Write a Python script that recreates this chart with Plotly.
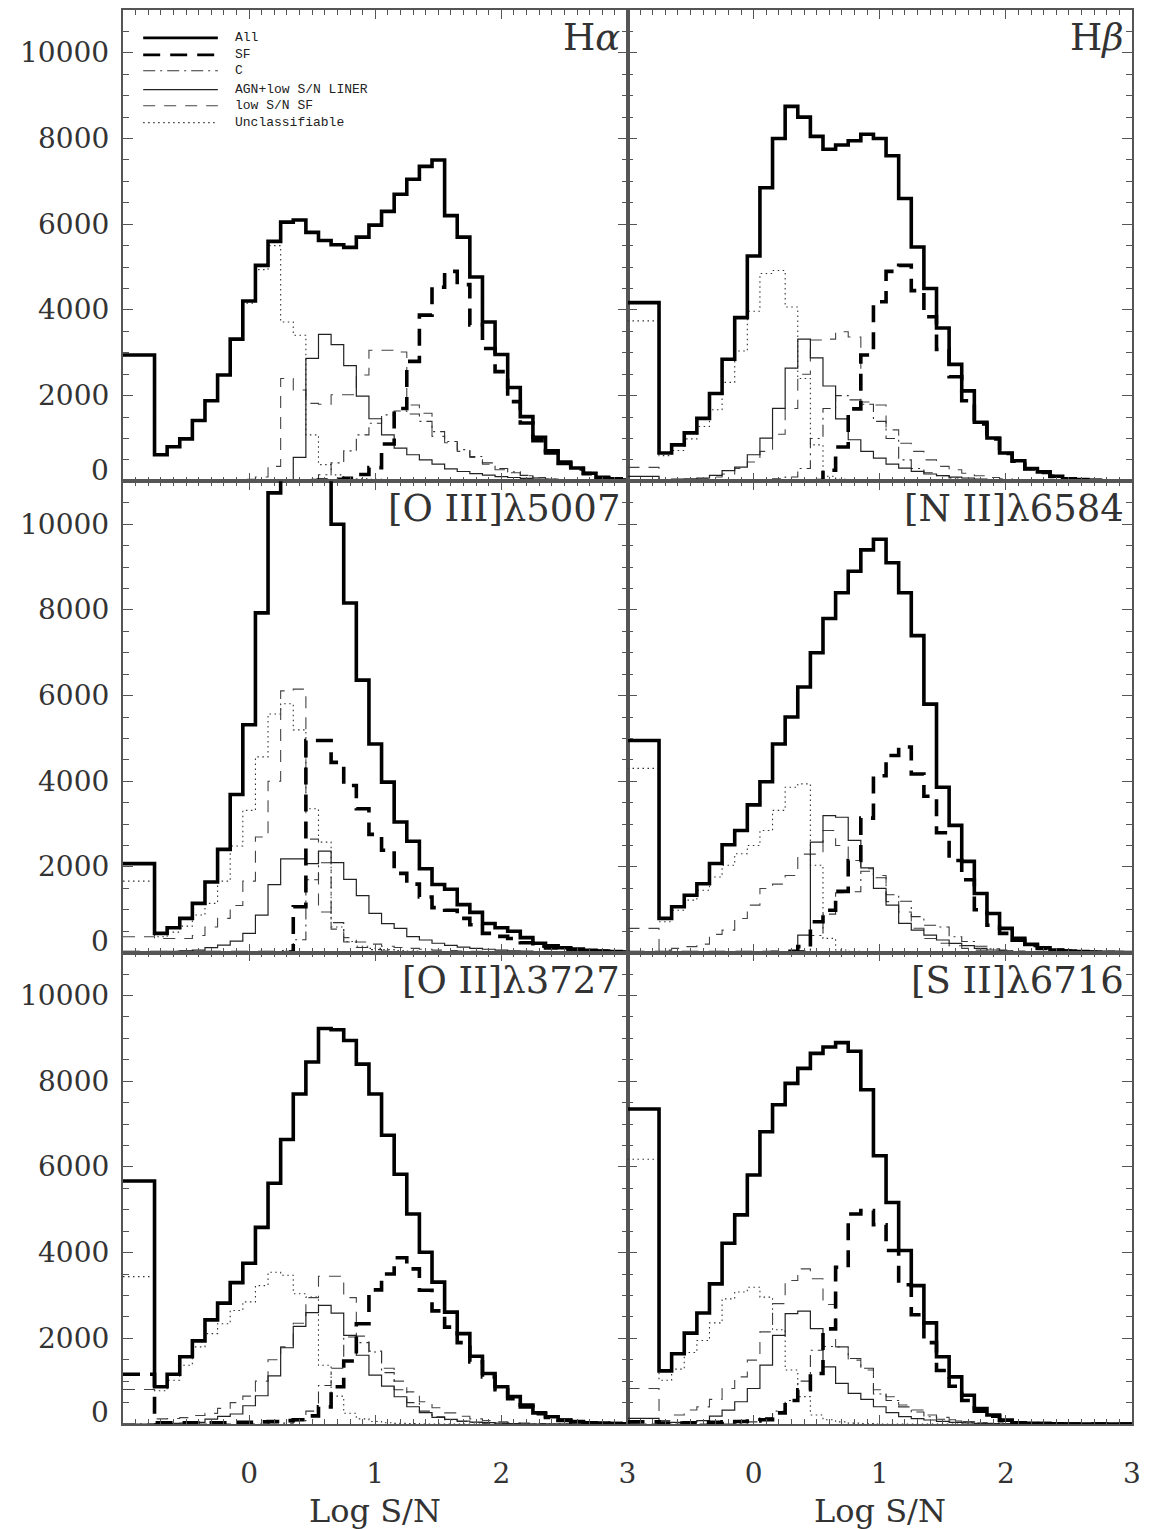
import plotly.graph_objects as go

# ---------------- data ----------------
# bin centres of log S/N (first bin = underflow, drawn from the left edge)
BIN_CENTERS = [-0.8, -0.7, -0.6, -0.5, -0.4, -0.3, -0.2, -0.1, 0.0, 0.1,
               0.2, 0.3, 0.4, 0.5, 0.6, 0.7, 0.8, 0.9, 1.0, 1.1,
               1.2, 1.3, 1.4, 1.5, 1.6, 1.7, 1.8, 1.9, 2.0, 2.1,
               2.2, 2.3, 2.4, 2.5, 2.6, 2.7, 2.8, 2.9, 3.0]
X_RANGE = [-1.0, 3.0]
Y_RANGE = [0, 11000]
X_TICKS = [0, 1, 2, 3]
Y_TICKS = [0, 2000, 4000, 6000, 8000, 10000]
Y_TICK_TEXT = ["0", "2000", "4000", "6000", "8000", "10000"]

PANEL_TITLES = ["H<i>α</i>", "H<i>β</i>", "[O III]λ5007", "[N II]λ6584",
                "[O II]λ3727", "[S II]λ6716"]
SERIES = ["All", "SF", "C", "AGN+low S/N LINER", "low S/N SF", "Unclassifiable"]

# H alpha
HA_ALL = [2950, 620, 806, 990, 1420, 1880, 2480, 3320, 4210, 5040,
          5600, 6050, 6100, 5810, 5620, 5520, 5460, 5700, 5980, 6300,
          6700, 7050, 7350, 7500, 6200, 5700, 4770, 3720, 2960, 2190,
          1510, 1030, 710, 450, 310, 190, 95, 60, 30]
HA_SF = [0, 0, 0, 0, 0, 0, 0, 0, 0, 0,
         0, 0, 10, 20, 30, 50, 70, 160, 320, 870,
         1700, 2800, 3880, 4530, 4900, 4590, 3650, 3100, 2560, 1860,
         1360, 950, 660, 420, 290, 180, 85, 50, 20]
HA_C = [0, 0, 0, 0, 0, 0, 0, 0, 0, 0,
        0, 0, 0, 30, 155, 430, 710, 1085, 1357, 1550,
        1640, 1570, 1400, 1160, 930, 740, 580, 430, 300, 220,
        140, 90, 55, 30, 20, 10, 5, 0, 0]
HA_AGN = [0, 0, 0, 0, 0, 0, 0, 0, 0, 0,
          0, 0, 560, 2870, 3430, 3190, 2700, 1990, 1460, 1085,
          775, 620, 500, 400, 290, 230, 180, 145, 110, 90,
          70, 50, 35, 25, 15, 10, 5, 0, 0]
HA_LSF = [0, 0, 0, 0, 0, 0, 0, 0, 50, 100,
          350, 2400, 2130, 1820, 1800, 2020, 2020, 2480, 3060, 3060,
          3020, 1780, 1590, 1050, 900, 700, 560, 400, 270, 200,
          130, 85, 55, 35, 20, 10, 5, 0, 0]
HA_UNC = [2950, 620, 806, 990, 1420, 1880, 2480, 3320, 4160, 4940,
          5500, 3720, 3410, 1085, 390, 150, 80, 60, 50, 40,
          30, 25, 20, 15, 10, 10, 5, 0, 0, 0,
          0, 0, 0, 0, 0, 0, 0, 0, 0]

# H beta
HB_ALL = [4170, 660, 850, 1130, 1470, 2050, 2850, 3820, 5260, 6850,
          8000, 8750, 8500, 8050, 7750, 7850, 7950, 8100, 8000, 7600,
          6600, 5470, 4500, 3580, 2730, 2110, 1380, 1010, 660, 480,
          300, 220, 120, 60, 40, 25, 10, 5, 0]
HB_SF = [0, 0, 0, 0, 0, 0, 0, 0, 0, 0,
         0, 0, 10, 20, 260, 800, 1690, 2950, 4190, 4900,
         5040, 4450, 3840, 3080, 2440, 1880, 1340, 990, 650, 470,
         290, 210, 115, 60, 35, 20, 10, 5, 0]
HB_C = [0, 0, 0, 0, 0, 0, 0, 0, 0, 30,
        60, 100, 300, 1000, 1700, 2000, 1900, 1800, 1400, 1000,
        500, 300, 200, 130, 80, 50, 30, 20, 10, 0,
        0, 0, 0, 0, 0, 0, 0, 0, 0]
HB_AGN = [116, 40, 50, 60, 78, 140, 250, 330, 620, 1010,
          1705, 2640, 3320, 2880, 2225, 1457, 970, 700, 543, 403,
          310, 233, 171, 132, 100, 78, 55, 40, 30, 20,
          15, 10, 5, 0, 0, 0, 0, 0, 0]
HB_LSF = [326, 20, 20, 40, 60, 100, 170, 300, 450, 700,
          1100, 1700, 2500, 3300, 3320, 3490, 3370, 1850, 1780, 1200,
          890, 700, 500, 350, 270, 190, 130, 90, 60, 40,
          25, 15, 10, 5, 0, 0, 0, 0, 0]
HB_UNC = [3744, 600, 720, 990, 1280, 1670, 2310, 3040, 3970, 4850,
          4920, 4070, 2400, 850, 120, 50, 30, 20, 10, 5,
          0, 0, 0, 0, 0, 0, 0, 0, 0, 0,
          0, 0, 0, 0, 0, 0, 0, 0, 0]

# [O III] 5007
O3_ALL = [2078, 450, 580, 800, 1150, 1650, 2410, 3690, 5320, 7930,
          10730, 12500, 13500, 13000, 11800, 10000, 8160, 6360, 4870, 3980,
          3050, 2600, 1960, 1590, 1480, 1120, 940, 680, 580, 500,
          350, 220, 160, 115, 85, 55, 40, 25, 15]
O3_SF = [0, 0, 0, 0, 0, 0, 0, 0, 0, 0,
         0, 0, 1070, 4950, 4950, 4440, 3900, 3360, 2760, 2390,
         1850, 1600, 1300, 1050, 990, 800, 650, 450, 380, 330,
         230, 150, 110, 80, 60, 40, 30, 20, 10]
O3_C = [0, 0, 0, 0, 0, 0, 0, 0, 0, 0,
        20, 50, 300, 1700, 2100, 700, 250, 120, 70, 40,
        25, 15, 10, 5, 0, 0, 0, 0, 0, 0,
        0, 0, 0, 0, 0, 0, 0, 0, 0]
O3_AGN = [0, 20, 30, 40, 60, 116, 178, 271, 450, 876,
          1590, 2190, 2190, 2080, 2370, 2100, 1710, 1330, 915, 680,
          566, 372, 295, 220, 170, 130, 100, 80, 60, 45,
          35, 25, 20, 15, 10, 5, 0, 0, 0]
O3_LSF = [370, 330, 330, 330, 400, 600, 800, 1100, 1670, 2700,
          4000, 6110, 6150, 2650, 950, 550, 350, 250, 200, 150,
          120, 100, 80, 60, 50, 40, 30, 20, 15, 10,
          5, 5, 0, 0, 0, 0, 0, 0, 0]
O3_UNC = [1670, 370, 480, 620, 880, 1150, 1670, 2490, 3320, 4570,
          5570, 5810, 5200, 3360, 2580, 600, 260, 150, 100, 70,
          50, 35, 25, 20, 15, 10, 5, 0, 0, 0,
          0, 0, 0, 0, 0, 0, 0, 0, 0]

# [N II] 6584
N2_ALL = [4950, 800, 1070, 1340, 1610, 2080, 2520, 2850, 3450, 3990,
          4870, 5500, 6200, 7000, 7800, 8400, 8900, 9400, 9650, 9100,
          8400, 7400, 5800, 3860, 2970, 2130, 1380, 915, 566, 333,
          194, 116, 62, 39, 25, 15, 10, 5, 0]
N2_SF = [0, 0, 0, 0, 0, 0, 0, 0, 0, 0,
         10, 30, 140, 720, 990, 1430, 2150, 3140, 4130, 4600,
         4800, 4170, 3650, 2800, 2150, 1700, 1000, 640, 450, 290,
         170, 100, 55, 35, 20, 10, 5, 0, 0]
N2_C = [0, 0, 0, 0, 0, 0, 0, 0, 0, 0,
        0, 0, 50, 400, 900, 1400, 1420, 1900, 1750, 1350,
        1200, 840, 640, 600, 370, 260, 150, 90, 60, 40,
        20, 10, 0, 0, 0, 0, 0, 0, 0]
N2_AGN = [0, 0, 0, 0, 0, 0, 0, 0, 0, 0,
          0, 0, 411, 2580, 3200, 3160, 2620, 1980, 1500, 1110,
          682, 527, 411, 295, 217, 163, 101, 62, 40, 25,
          15, 10, 5, 0, 0, 0, 0, 0, 0]
N2_LSF = [566, 60, 100, 140, 200, 426, 527, 798, 1109, 1496,
          1600, 1800, 2300, 2300, 2850, 2500, 2150, 1960, 1800, 1190,
          950, 570, 330, 220, 160, 100, 60, 40, 25, 15,
          10, 5, 0, 0, 0, 0, 0, 0, 0]
N2_UNC = [4300, 720, 990, 1225, 1457, 1767, 2040, 2310, 2500, 2850,
          3320, 3860, 3940, 2040, 333, 62, 30, 15, 5, 0,
          0, 0, 0, 0, 0, 0, 0, 0, 0, 0,
          0, 0, 0, 0, 0, 0, 0, 0, 0]

# [O II] 3727
O2_ALL = [5670, 870, 1160, 1570, 1940, 2430, 2820, 3300, 3750, 4590,
          5620, 6640, 7700, 8450, 9230, 9200, 8950, 8400, 7700, 6740,
          5830, 4900, 4010, 3310, 2610, 2110, 1580, 1180, 870, 640,
          440, 260, 170, 90, 55, 30, 20, 10, 5]
O2_SF = [1160, 30, 30, 30, 30, 30, 30, 40, 40, 50,
         60, 80, 100, 190, 400, 870, 1470, 2340, 3130, 3500,
         3880, 3620, 3120, 2640, 2260, 1900, 1450, 1100, 800, 590,
         400, 240, 155, 85, 50, 30, 15, 8, 0]
O2_C = [0, 0, 0, 0, 0, 0, 0, 0, 0, 0,
        0, 20, 80, 300, 900, 1300, 2030, 1900, 1680, 1200,
        800, 500, 300, 170, 100, 60, 35, 20, 10, 0,
        0, 0, 0, 0, 0, 0, 0, 0, 0]
O2_AGN = [0, 10, 15, 20, 40, 116, 178, 233, 426, 659,
          1124, 1780, 2280, 2600, 2770, 2590, 2070, 1605, 1140, 884,
          636, 403, 264, 155, 109, 70, 45, 30, 20, 10,
          0, 0, 0, 0, 0, 0, 0, 0, 0]
O2_LSF = [806, 120, 130, 150, 200, 248, 364, 500, 650, 1000,
          1500, 1800, 2350, 2950, 3450, 3450, 2950, 2050, 1700, 1300,
          1000, 750, 520, 380, 260, 180, 120, 80, 50, 30,
          20, 10, 0, 0, 0, 0, 0, 0, 0]
O2_UNC = [3440, 775, 1020, 1370, 1800, 2110, 2340, 2650, 2850, 3230,
          3540, 3470, 3040, 2960, 1370, 650, 250, 120, 60, 30,
          15, 10, 0, 0, 0, 0, 0, 0, 0, 0,
          0, 0, 0, 0, 0, 0, 0, 0, 0]

# [S II] 6716
S2_ALL = [7350, 1240, 1640, 2120, 2590, 3270, 4220, 4880, 5810, 6820,
          7450, 7950, 8300, 8650, 8800, 8900, 8700, 7800, 6260, 5170,
          4050, 3230, 2360, 1570, 1100, 670, 360, 210, 90, 30,
          15, 10, 5, 0, 0, 0, 0, 0, 0]
S2_SF = [50, 20, 20, 30, 30, 40, 50, 60, 70, 100,
         260, 550, 800, 1180, 2220, 3660, 4900, 4980, 4650, 4050,
         3250, 2550, 1900, 1250, 880, 550, 300, 180, 80, 28,
         12, 8, 0, 0, 0, 0, 0, 0, 0]
S2_C = [0, 0, 0, 0, 0, 0, 0, 20, 50, 150,
        300, 550, 1000, 1720, 1810, 1800, 1530, 1300, 700, 550,
        400, 280, 170, 110, 70, 40, 20, 10, 0, 0,
        0, 0, 0, 0, 0, 0, 0, 0, 0]
S2_AGN = [132, 30, 40, 50, 80, 186, 326, 519, 829, 1372,
          2070, 2574, 2636, 2225, 1333, 946, 713, 574, 403, 264,
          171, 124, 93, 60, 40, 25, 15, 8, 0, 0,
          0, 0, 0, 0, 0, 0, 0, 0, 0]
S2_LSF = [829, 80, 209, 326, 400, 574, 829, 1101, 1490, 2150,
          2810, 3350, 3620, 3390, 2790, 1800, 1490, 1260, 800, 636,
          442, 326, 209, 155, 100, 60, 30, 15, 8, 0,
          0, 0, 0, 0, 0, 0, 0, 0, 0]
S2_UNC = [6180, 1020, 1280, 1670, 1950, 2360, 2920, 3080, 3190, 2960,
          2200, 1260, 640, 210, 100, 50, 20, 10, 0, 0,
          0, 0, 0, 0, 0, 0, 0, 0, 0, 0,
          0, 0, 0, 0, 0, 0, 0, 0, 0]

PANELS = [
    [HA_ALL, HA_SF, HA_C, HA_AGN, HA_LSF, HA_UNC],
    [HB_ALL, HB_SF, HB_C, HB_AGN, HB_LSF, HB_UNC],
    [O3_ALL, O3_SF, O3_C, O3_AGN, O3_LSF, O3_UNC],
    [N2_ALL, N2_SF, N2_C, N2_AGN, N2_LSF, N2_UNC],
    [O2_ALL, O2_SF, O2_C, O2_AGN, O2_LSF, O2_UNC],
    [S2_ALL, S2_SF, S2_C, S2_AGN, S2_LSF, S2_UNC],
]

# ---------------- styles ----------------
STYLES = {
    "All": dict(color="black", width=3.6, dash="solid"),
    "SF": dict(color="black", width=3.6, dash="17px,10px"),
    "C": dict(color="#333333", width=1.1, dash="12px,5px,2px,5px"),
    "AGN+low S/N LINER": dict(color="#222222", width=1.2, dash="solid"),
    "low S/N SF": dict(color="#444444", width=1.1, dash="12px,9px"),
    "Unclassifiable": dict(color="#333333", width=1.1, dash="1.5px,3.5px"),
}
DRAW_ORDER = [5, 4, 2, 3, 1, 0]
AX = "#555555"
SERIF = "DejaVu Serif"
TXT = "#333333"


def step_xy(vals):
    xs = [X_RANGE[0]] + [round(c - 0.05, 3) for c in BIN_CENTERS[1:]] + [round(BIN_CENTERS[-1] + 0.05, 3)]
    ys = list(vals) + [vals[-1]]
    return xs, ys


fig = go.Figure()
ROW_DOMAINS = [[2 / 3, 1.0], [1 / 3, 2 / 3], [0.0, 1 / 3]]
COL_DOMAINS = [[0.0, 0.5], [0.5, 1.0]]

annotations = []
shapes = []
layout_axes = {}

for p, series_vals in enumerate(PANELS):
    r, c = divmod(p, 2)
    xa_name = "xaxis" if p == 0 else f"xaxis{p + 1}"
    ya_name = "yaxis" if p == 0 else f"yaxis{p + 1}"
    xref = "x" if p == 0 else f"x{p + 1}"
    yref = "y" if p == 0 else f"y{p + 1}"

    for idx in DRAW_ORDER:
        name = SERIES[idx]
        xs, ys = step_xy(series_vals[idx])
        st = STYLES[name]
        fig.add_trace(go.Scatter(x=xs, y=ys, mode="lines", name=name,
                                 line=dict(color=st["color"], width=st["width"],
                                           dash=st["dash"], shape="hv"),
                                 xaxis=xref, yaxis=yref, showlegend=False,
                                 hoverinfo="skip"))

    layout_axes[xa_name] = dict(
        domain=COL_DOMAINS[c], range=X_RANGE, anchor=yref, showline=True,
        linecolor=AX, linewidth=1.5, mirror="ticks", ticks="inside", ticklen=9,
        tickwidth=1, tickcolor=AX, tickvals=X_TICKS, showgrid=False, zeroline=False,
        showticklabels=(r == 2), tickfont=dict(family=SERIF, size=28, color=TXT),
        ticklabelstandoff=24,
        minor=dict(dtick=0.1, tick0=0, ticklen=5, tickcolor=AX, ticks="inside", showgrid=False),
    )
    layout_axes[ya_name] = dict(
        domain=ROW_DOMAINS[r], range=Y_RANGE, anchor=xref, showline=True,
        linecolor=AX, linewidth=1.5, mirror="ticks", ticks="inside", ticklen=10,
        tickwidth=1, tickcolor=AX, tickvals=Y_TICKS, showgrid=False, zeroline=False,
        showticklabels=False,
        minor=dict(dtick=500, tick0=0, ticklen=6, tickcolor=AX, ticks="inside", showgrid=False),
    )

    # panel title
    annotations.append(dict(text=PANEL_TITLES[p], xref=f"{xref} domain", yref=f"{yref} domain",
                            x=1, y=1, xanchor="right", yanchor="top", xshift=-6, yshift=-4,
                            showarrow=False, font=dict(family=SERIF, size=37, color=TXT)))

    # y tick labels (left column)
    if c == 0:
        for v, t in zip(Y_TICKS, Y_TICK_TEXT):
            annotations.append(dict(text=t, xref=f"{xref} domain", yref=yref, x=0, y=v,
                                    xanchor="right", yanchor="middle", xshift=-12,
                                    yshift=(11 if v == 0 else 0), showarrow=False,
                                    font=dict(family=SERIF, size=28, color=TXT)))
    # x axis title (bottom row)
    if r == 2:
        annotations.append(dict(text="Log S/N", xref=f"{xref} domain", yref="paper",
                                x=0.5, y=0, xanchor="center", yanchor="top", yshift=-66,
                                showarrow=False, font=dict(family=SERIF, size=32, color=TXT)))

# legend drawn inside the first panel
LEG_Y = [0.941, 0.905, 0.871, 0.831, 0.797, 0.761]
for name, ly in zip(SERIES, LEG_Y):
    st = STYLES[name]
    shapes.append(dict(type="line", xref="x domain", yref="y domain", x0=0.04, x1=0.188,
                       y0=ly, y1=ly, line=dict(color=st["color"],
                                              width=st["width"] * 0.75 if st["width"] > 2 else st["width"],
                                              dash=st["dash"])))
    annotations.append(dict(text=name, xref="x domain", yref="y domain", x=0.218, y=ly,
                            xanchor="left", yanchor="middle", showarrow=False,
                            font=dict(family="Liberation Mono", size=13, color="#222222")))

# the page adds an 8px body margin, so the figure is offset to land on the same pixels
fig.update_layout(
    width=1133, height=1521,
    margin=dict(l=115, r=9, t=0, b=105),
    plot_bgcolor="white", paper_bgcolor="white",
    showlegend=False,
    annotations=annotations, shapes=shapes,
    **layout_axes,
)

fig.write_html("out.html")
